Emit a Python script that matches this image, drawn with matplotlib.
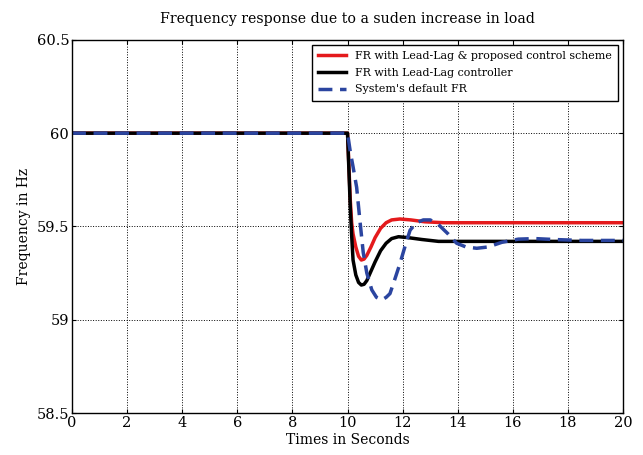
import numpy as np
import matplotlib
matplotlib.use('Agg')
import matplotlib.pyplot as plt

# data (time in s, frequency in Hz)
t_red = [0, 10.0, 10.05, 10.1, 10.15, 10.2, 10.3, 10.4, 10.5, 10.6, 10.7, 10.85, 11.0, 11.2,
         11.4, 11.6, 11.9, 12.3, 12.8, 13.5, 20]
f_red = [60, 60, 59.82, 59.64, 59.52, 59.46, 59.39, 59.34, 59.32, 59.325, 59.345, 59.39, 59.44, 59.49,
         59.52, 59.535, 59.54, 59.535, 59.525, 59.52, 59.52]

t_black = [0, 10.0, 10.05, 10.1, 10.15, 10.2, 10.3, 10.4, 10.5, 10.6, 10.7, 10.85, 11.0, 11.2,
           11.4, 11.6, 11.85, 12.2, 12.7, 13.3, 20]
f_black = [60, 60, 59.8, 59.6, 59.45, 59.32, 59.24, 59.2, 59.186, 59.19, 59.21, 59.26, 59.31, 59.37,
           59.41, 59.435, 59.445, 59.44, 59.43, 59.42, 59.42]

t_blue = [0, 10.0, 10.1, 10.2, 10.33, 10.45, 10.57, 10.7, 10.88, 11.05, 11.24, 11.4, 11.54, 11.7,
          11.9, 12.1, 12.27, 12.5, 12.75, 13.0, 13.3, 13.65, 13.96, 14.3, 14.69, 15.1, 15.6, 16.2,
          16.8, 17.5, 18.5, 20]
f_blue = [60, 60, 59.9, 59.82, 59.71, 59.53, 59.36, 59.25, 59.16, 59.12, 59.106, 59.12, 59.14, 59.21,
          59.30, 59.40, 59.48, 59.52, 59.535, 59.535, 59.51, 59.46, 59.41, 59.39, 59.383, 59.39, 59.415, 59.432,
          59.435, 59.43, 59.425, 59.425]

labels = ['FR with Lead-Lag & proposed control scheme',
          'FR with Lead-Lag controller',
          "System's default FR"]

plt.rcParams['font.family'] = ['DejaVu Serif']

fig = plt.figure(figsize=(6.43, 4.55), dpi=100)
ax = fig.add_axes([0.112, 0.0923, 0.857, 0.82])

ax.plot(t_red, f_red, color='#e41a1c', lw=2.5, label=labels[0])
ax.plot(t_black, f_black, color='black', lw=2.5, label=labels[1])
ax.plot(t_blue, f_blue, color='#2b45a0', lw=2.5, ls=(0, (4, 2.2)), label=labels[2])

ax.set_xlim(0, 20)
ax.set_ylim(58.5, 60.5)
ax.set_xticks(np.arange(0, 21, 2))
ax.set_yticks([58.5, 59, 59.5, 60, 60.5])
ax.set_yticklabels(['58.5', '59', '59.5', '60', '60.5'])
ax.grid(True, color='black', ls=':', lw=0.7)
ax.tick_params(direction='in', top=True, right=True, labelsize=10.5, pad=2, length=3)
for s in ax.spines.values():
    s.set_linewidth(1.0)

ax.set_title('Frequency response due to a suden increase in load', fontsize=10.2, pad=12)
ax.set_xlabel('Times in Seconds', fontsize=10, labelpad=2)
ax.set_ylabel('Frequency in Hz', fontsize=10)

leg = ax.legend(loc='upper right', fontsize=7.9, fancybox=False, framealpha=1,
                edgecolor='black', handlelength=2.6, borderaxespad=0.45,
                labelspacing=0.62, borderpad=0.55)
leg.get_frame().set_linewidth(1.0)

fig.savefig('out.png', dpi=100)
